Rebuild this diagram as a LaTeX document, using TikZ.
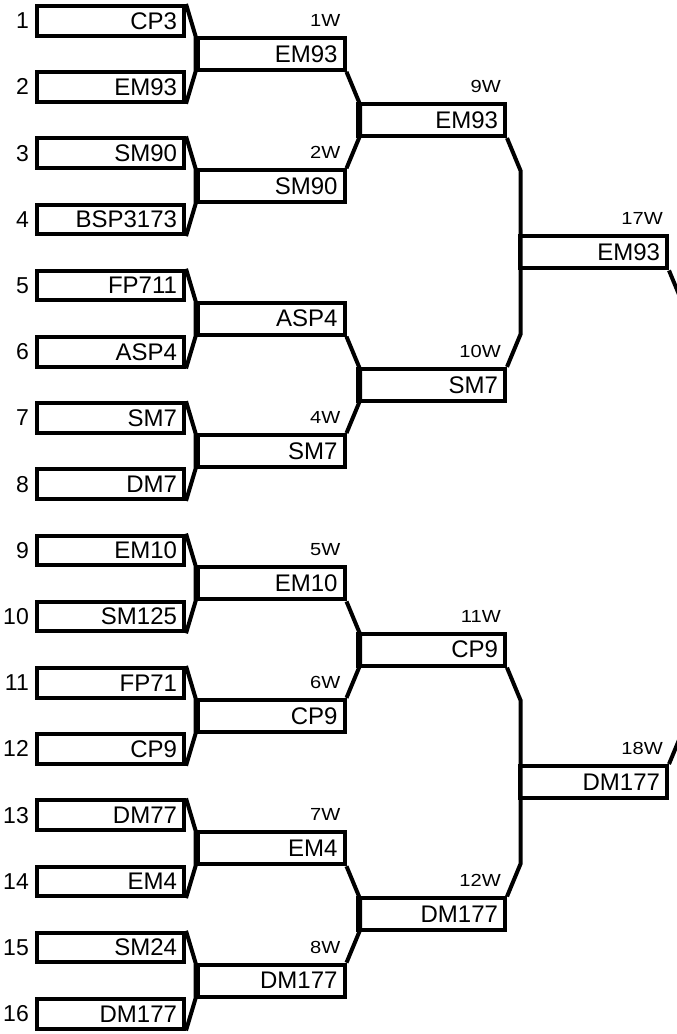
\documentclass[tikz,border=0pt]{standalone}
\usepackage{fontspec}
\setmainfont{Liberation Sans}
\newfontfamily\tagfont[FakeStretch=1.15]{Liberation Sans}
\usetikzlibrary{calc}

\begin{document}
\begin{tikzpicture}[
  x=1pt, y=1pt,
  team/.style={draw, line width=4pt, inner xsep=7pt, inner ysep=0pt,
               text width=133pt, align=right, minimum height=29.5pt,
               font=\fontsize{24}{24}\selectfont},
  winner/.style={team, minimum height=32pt},
  seed/.style={font=\fontsize{23}{23}\selectfont, inner sep=1pt, anchor=east},
  tag/.style={font=\tagfont\fontsize{17.5}{17.5}\selectfont, inner sep=0pt,
              anchor=base east},
  link/.style={line width=4pt}]

\clip (0,0) rectangle (677,-1034);

% first round
\foreach \name [count=\i] in {CP3,EM93,SM90,BSP3173,FP711,ASP4,SM7,DM7,
                              EM10,SM125,FP71,CP9,DM77,EM4,SM24,DM177} {
  \node[team] (p\i) at (110.5,{-20.75-66.2*(\i-1)}) {\name};
  \node[seed] (s\i) at ($(p\i.west)+(-5,0)$) {\i};
}

% second round
\node[winner] (w1) at (271,-53.85) {EM93};
\node[winner] (w2) at (271,-186.25) {SM90};
\node[winner] (w3) at (271,-318.65) {ASP4};
\node[winner] (w4) at (271,-451.05) {SM7};
\node[winner] (w5) at (271,-583.45) {EM10};
\node[winner] (w6) at (271,-715.85) {CP9};
\node[winner] (w7) at (271,-848.25) {EM4};
\node[winner] (w8) at (271,-980.65) {DM177};

% third round
\node[winner] (w9) at (431.5,-120.05) {EM93};
\node[winner] (w10) at (431.5,-384.85) {SM7};
\node[winner] (w11) at (431.5,-649.65) {CP9};
\node[winner] (w12) at (431.5,-914.45) {DM177};

% fourth round
\node[winner] (w17) at (593.5,-252.45) {EM93};
\node[winner] (w18) at (593.5,-782.05) {DM177};

% match numbers
\foreach \w/\t in {w1/1W,w2/2W,w4/4W,w5/5W,w6/6W,w7/7W,w8/8W,
                   w9/9W,w10/10W,w11/11W,w12/12W,w17/17W,w18/18W}
  \node[tag] (t\w) at ($(\w.north east)+(-6,9.5)$) {\t};

% brackets
\foreach \a/\b/\c in {p1/p2/w1,p3/p4/w2,p5/p6/w3,p7/p8/w4,
                      p9/p10/w5,p11/p12/w6,p13/p14/w7,p15/p16/w8}
  \draw[link] (\a.north east) -- (\c.north west) -- (\c.south west) -- (\b.south east);
\foreach \a/\b in {w1/w2,w3/w4,w5/w6,w7/w8,w9/w10,w11/w12,w17/w18}
  \draw[link] (\a.south east) -- ++(13.5,-32.5)
    -- ($(\b.north east)+(13.5,32.5)$) -- (\b.north east);
\end{tikzpicture}
\end{document}
